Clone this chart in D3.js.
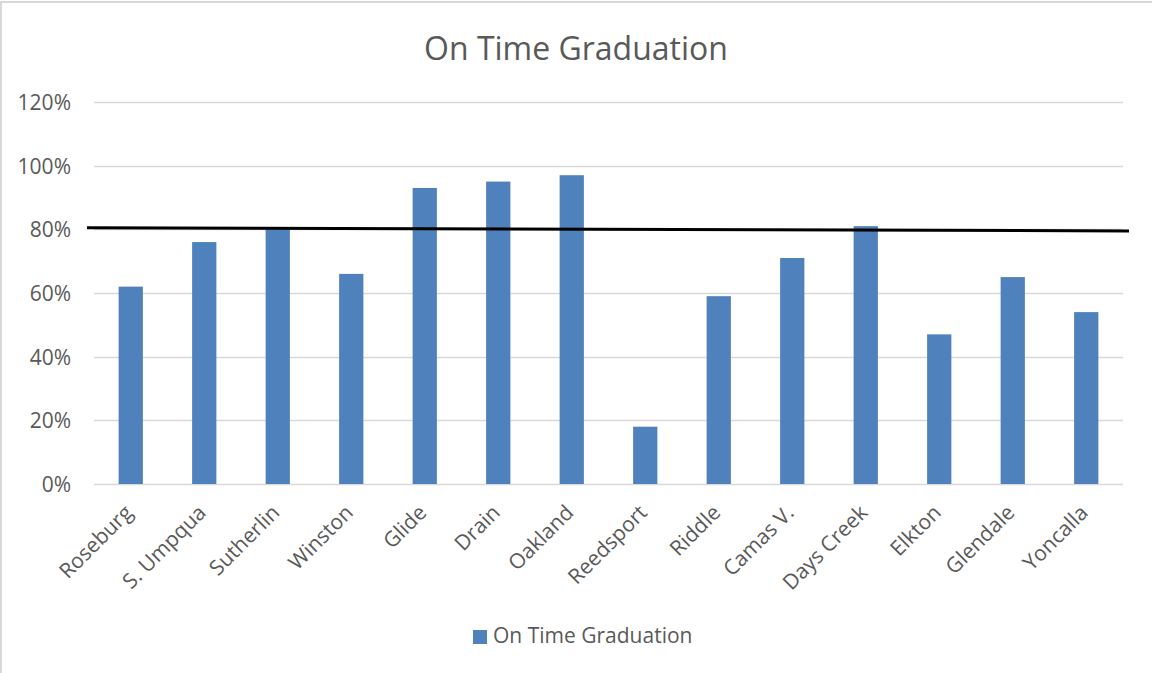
<!DOCTYPE html>
<html>
<head>
<meta charset="utf-8">
<script src="https://cdn.jsdelivr.net/npm/d3@7"></script>
<style>
  body { margin: 0; background: #fff; }
  svg text { font-family: "Open Sans", "Noto Sans", sans-serif; fill: #595959; }
</style>
</head>
<body>
<svg id="chart" width="1152" height="673"></svg>
<script>
// values
const schools = ["Roseburg", "S. Umpqua", "Sutherlin", "Winston", "Glide", "Drain", "Oakland",
                 "Reedsport", "Riddle", "Camas V.", "Days Creek", "Elkton", "Glendale", "Yoncalla"];
const onTime = [0.62, 0.76, 0.80, 0.66, 0.93, 0.95, 0.97, 0.18, 0.59, 0.71, 0.81, 0.47, 0.65, 0.54];
const yTicks = [0, 0.2, 0.4, 0.6, 0.8, 1.0, 1.2];
// hand drawn target line, value at left and right end
const targetLine = [0.805, 0.795];
const title = "On Time Graduation";
const seriesName = "On Time Graduation";

const svg = d3.select("#chart");
const W = 1152, H = 673;
const plot = {left: 94, right: 1123, top: 102, bottom: 484};
const barColor = "#4f81bd";

// chart border (light grey frame)
svg.append("rect")
    .attr("x", 1).attr("y", 2)
    .attr("width", W + 10).attr("height", H + 10)
    .attr("fill", "none")
    .attr("stroke", "#d9d9d9")
    .attr("stroke-width", 2);

const x = d3.scaleBand().domain(schools).range([plot.left, plot.right]).paddingInner(0.67).paddingOuter(0.335);
const y = d3.scaleLinear().domain([0, 1.2]).range([plot.bottom, plot.top]);

// gridlines
svg.append("g")
    .selectAll("line")
    .data(yTicks)
    .enter().append("line")
    .attr("x1", plot.left).attr("x2", plot.right)
    .attr("y1", d => Math.round(y(d)) + 0.5).attr("y2", d => Math.round(y(d)) + 0.5)
    .attr("stroke", "#d9d9d9")
    .attr("stroke-width", 1.5);

// y axis labels
const yAxis = d3.axisLeft(y).tickValues(yTicks).tickFormat(d3.format(".0%")).tickSize(0).tickPadding(0);
const gy = svg.append("g").attr("transform", "translate(71,0)").call(yAxis);
gy.select(".domain").remove();
gy.selectAll("text")
    .attr("font-size", 21)
    .attr("fill", "#595959")
    .attr("font-family", "\"Open Sans\", sans-serif")
    .attr("dy", "0.36em");

// bars
svg.append("g")
    .selectAll("rect")
    .data(onTime)
    .enter().append("rect")
    .attr("x", (d, i) => x(schools[i]))
    .attr("width", x.bandwidth())
    .attr("y", d => y(d))
    .attr("height", d => y(0) - y(d))
    .attr("fill", barColor);

// category labels, rotated
const xAxis = d3.axisBottom(x).tickSize(0).tickPadding(0);
const gx = svg.append("g").attr("transform", "translate(0," + plot.bottom + ")").call(xAxis);
gx.select(".domain").remove();
gx.selectAll("text")
    .attr("font-size", 21)
    .attr("fill", "#595959")
    .attr("font-family", "\"Open Sans\", sans-serif")
    .attr("text-anchor", "end")
    .attr("dy", null)
    .attr("y", null)
    .attr("transform", "translate(3,30) rotate(-45)");

// target line
svg.append("line")
    .attr("x1", 87).attr("x2", 1129)
    .attr("y1", y(targetLine[0])).attr("y2", y(targetLine[1]))
    .attr("stroke", "#000")
    .attr("stroke-width", 3);

// title
svg.append("text")
    .attr("x", 576).attr("y", 60)
    .attr("text-anchor", "middle")
    .attr("font-size", 32)
    .text(title);

// legend
const lg = svg.append("g").attr("transform", "translate(473,630)");
lg.append("rect").attr("width", 14).attr("height", 14).attr("fill", barColor);
lg.append("text").attr("x", 20).attr("y", 13).attr("font-size", 21).text(seriesName);
</script>
</body>
</html>
